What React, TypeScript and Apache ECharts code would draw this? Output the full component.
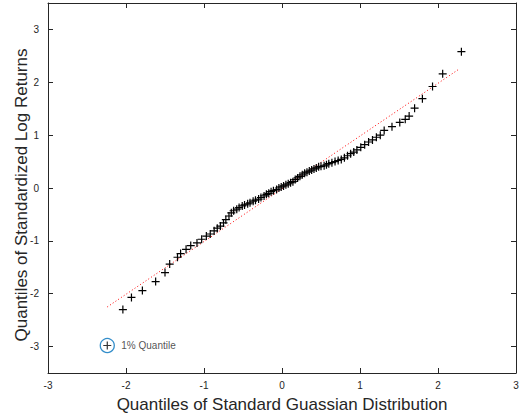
import React, { useEffect, useRef } from "react";
import * as echarts from "echarts";

// Theoretical (standard normal) quantiles
const qqX = [
  -2.04, -1.93, -1.79, -1.62, -1.5, -1.44, -1.34, -1.3, -1.23, -1.17, -1.09, -1.03, -0.97, -0.92, -0.87,
  -0.83, -0.79, -0.75, -0.72, -0.68, -0.65, -0.62, -0.58, -0.55, -0.51, -0.48, -0.44, -0.41, -0.37,
  -0.34, -0.3, -0.27, -0.23, -0.2, -0.17, -0.14, -0.11, -0.07, -0.04, -0.01, 0.02, 0.05, 0.08, 0.11,
  0.14, 0.17, 0.2, 0.23, 0.26, 0.29, 0.32, 0.35, 0.38, 0.41, 0.44, 0.47, 0.5, 0.54, 0.57, 0.6, 0.64,
  0.68, 0.72, 0.76, 0.8, 0.84, 0.88, 0.92, 0.96, 1.01, 1.06, 1.11, 1.16, 1.21, 1.26, 1.31, 1.41, 1.51,
  1.58, 1.63, 1.7, 1.8, 1.93, 2.06, 2.3,
];
// Standardized log-return quantiles
const qqY = [
  -2.3, -2.07, -1.94, -1.77, -1.6, -1.44, -1.31, -1.24, -1.16, -1.09, -1.04, -0.97, -0.91, -0.87, -0.81,
  -0.76, -0.72, -0.66, -0.6, -0.53, -0.47, -0.43, -0.4, -0.37, -0.34, -0.32, -0.3, -0.28, -0.25,
  -0.23, -0.21, -0.18, -0.15, -0.12, -0.1, -0.07, -0.05, -0.03, 0.0, 0.02, 0.04, 0.06, 0.08, 0.1,
  0.12, 0.16, 0.19, 0.22, 0.25, 0.28, 0.3, 0.32, 0.34, 0.36, 0.38, 0.4, 0.41, 0.42, 0.44, 0.46, 0.48,
  0.5, 0.52, 0.54, 0.57, 0.61, 0.65, 0.68, 0.72, 0.77, 0.82, 0.87, 0.91, 0.96, 1.0, 1.09, 1.16, 1.24,
  1.3, 1.36, 1.51, 1.69, 1.92, 2.16, 2.58,
];
// Reference line end points
const refX = [-2.24, 2.27];
const refY = [-2.25, 2.25];
// 1% quantile marker
const markX = [-2.24];
const markY = [-2.98];
const markLabel = "1% Quantile";
// Tick values
const xTicks = [-3, -2, -1, 0, 1, 2, 3];
const yTicks = [-3, -2, -1, 0, 1, 2, 3];
const xTitle = "Quantiles of Standard Guassian Distribution";
const yTitle = "Quantiles of Standardized Log Returns";

const FONT = "'Liberation Sans', Arial, Helvetica, sans-serif";
const AX = "#262626";
const PLUS = "path://M4.25,0H5.75V4.25H10V5.75H5.75V10H4.25V5.75H0V4.25H4.25Z";

export default function App() {
  const ref = useRef<HTMLDivElement>(null);
  useEffect(() => {
    const chart = echarts.init(ref.current!, null, { renderer: "svg" });
    const tickCommon = { show: true, inside: true, length: 5, lineStyle: { color: AX, width: 1 } };
    const lineCommon = { show: true, onZero: false, lineStyle: { color: AX, width: 1 } };
    chart.setOption({
      animation: false,
      textStyle: { fontFamily: FONT },
      grid: { left: 48, right: 5, top: 3, bottom: 45, containLabel: false, outerBoundsMode: "none" },
      graphic: [
        {
          type: "text",
          x: 21,
          y: 195,
          rotation: Math.PI / 2,
          style: {
            text: yTitle,
            fill: AX,
            font: `17px ${FONT}`,
            align: "center",
            verticalAlign: "middle",
          },
        },
      ],
      xAxis: [
        {
          type: "value",
          min: -3,
          max: 3,
          interval: 1,
          position: "bottom",
          axisLine: lineCommon,
          axisTick: { ...tickCommon, customValues: xTicks },
          splitLine: { show: false },
          axisLabel: { color: AX, fontSize: 10, margin: 7, fontFamily: FONT, customValues: xTicks },
          name: xTitle,
          nameLocation: "middle",
          nameGap: 23,
          nameTextStyle: { color: AX, fontSize: 17, fontFamily: FONT },
        },
        {
          type: "value",
          min: -3,
          max: 3,
          interval: 1,
          position: "top",
          axisLine: lineCommon,
          axisTick: { ...tickCommon, customValues: xTicks },
          splitLine: { show: false },
          axisLabel: { show: false },
        },
      ],
      yAxis: [
        {
          type: "value",
          min: -3.5,
          max: 3.5,
          position: "left",
          axisLine: lineCommon,
          axisTick: { ...tickCommon, customValues: yTicks },
          splitLine: { show: false },
          axisLabel: { color: AX, fontSize: 10, margin: 9, fontFamily: FONT, customValues: yTicks },
        },
        {
          type: "value",
          min: -3.5,
          max: 3.5,
          position: "right",
          axisLine: lineCommon,
          axisTick: { ...tickCommon, customValues: yTicks },
          splitLine: { show: false },
          axisLabel: { show: false, customValues: yTicks },
        },
      ],
      series: [
        {
          type: "line",
          data: refX.map((x, i) => [x, refY[i]]),
          showSymbol: false,
          symbol: "none",
          lineStyle: { color: "#ff0000", width: 1, type: [1, 2.3] },
          z: 1,
        },
        {
          type: "scatter",
          data: qqX.map((x, i) => [x, qqY[i]]),
          symbol: PLUS,
          symbolSize: 8,
          itemStyle: { color: "#000", opacity: 1 },
          z: 2,
        },
        {
          type: "scatter",
          data: markX.map((x, i) => [x, markY[i]]),
          symbol: "circle",
          symbolSize: 14,
          itemStyle: { color: "rgba(0,0,0,0)", borderColor: "#0072BD", borderWidth: 1.3 },
          z: 3,
        },
        {
          type: "scatter",
          data: markX.map((x, i) => [x, markY[i]]),
          symbol: PLUS,
          symbolSize: 8,
          itemStyle: { color: "#000" },
          label: {
            show: true,
            position: "right",
            distance: 10,
            formatter: markLabel,
            color: AX,
            fontSize: 10,
            fontFamily: FONT,
          },
          z: 4,
        },
      ],
    });
    return () => chart.dispose();
  }, []);
  return <div ref={ref} style={{ width: 521, height: 418, position: "absolute", left: 0, top: 0 }} />;
}
